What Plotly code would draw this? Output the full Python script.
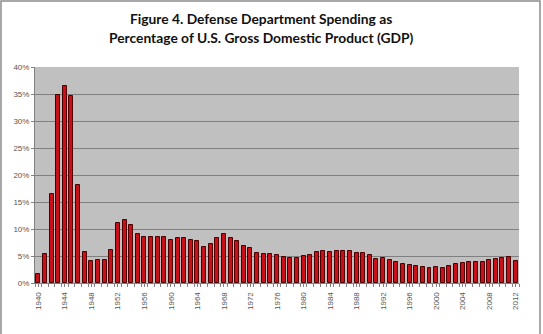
import plotly.graph_objects as go

years = list(range(1940, 2013))
pct_gdp = [1.6, 5.4, 16.4, 34.9, 36.4, 34.6, 18.2, 5.7, 4.1, 4.2, 4.3, 6.2,
           11.2, 11.7, 10.7, 9.0, 8.5, 8.5, 8.6, 8.6, 8.0, 8.3, 8.3, 8.0,
           7.8, 6.7, 7.3, 8.4, 9.0, 8.3, 7.7, 6.9, 6.4, 5.6, 5.4, 5.4,
           5.2, 4.9, 4.6, 4.7, 5.0, 5.2, 5.7, 6.0, 5.7, 6.0, 6.0, 6.0,
           5.6, 5.6, 5.2, 4.4, 4.6, 4.2, 3.9, 3.5, 3.3, 3.1, 2.9, 2.75,
           2.9, 2.75, 3.1, 3.5, 3.75, 3.8, 3.9, 3.9, 4.2, 4.5, 4.6, 4.9, 4.0]
tick_years = list(range(1940, 2013, 4))
y_ticks = [0, 5, 10, 15, 20, 25, 30, 35, 40]
title_lines = ["Figure 4. Defense Department Spending as",
               "Percentage of U.S. Gross Domestic Product (GDP)"]

W, H = 543, 334
L, R, T, B = 35, 24, 67, 51
pw, ph = W - L - R, H - T - B

fig = go.Figure(go.Bar(
    x=years, y=pct_gdp, width=0.6,
    marker=dict(color="#C8101A", line=dict(color="#4A0000", width=1)),
))

fig.update_layout(
    width=W, height=H,
    margin=dict(l=L, r=R, t=T, b=B),
    paper_bgcolor="white", plot_bgcolor="#C0C0C0",
    showlegend=False, bargap=0,
    font=dict(family="Liberation Sans, Arial", size=8, color="#555555"),
)
fig.update_xaxes(
    range=[1939.5, 2012.5], tickvals=tick_years, ticktext=[str(y) for y in tick_years],
    tickangle=-90, showgrid=False, ticks="outside", ticklen=3, tickcolor="#808080",
    showline=True, linecolor="#808080", ticklabelstandoff=2,
    linewidth=1, zeroline=False, tickfont=dict(size=8, color="#555555"),
    minor=dict(ticks="outside", tick0=1939.5, dtick=1, ticklen=3, tickcolor="#808080", showgrid=False),
)
fig.update_yaxes(
    range=[0, 40], tickvals=y_ticks, ticktext=[f"{v}%" for v in y_ticks],
    showgrid=True, gridcolor="#7F7F7F", gridwidth=1, showline=True,
    linecolor="#808080", linewidth=1, ticks="outside", ticklen=3, tickcolor="#808080",
    zeroline=False, tickfont=dict(size=8, color="#555555"),
)
# outer chart border
fig.add_shape(type="rect", xref="paper", yref="paper",
              x0=(1 - L) / pw, x1=(W - 3 - L) / pw,
              y0=(H - T - 332) / ph + 0, y1=1 + (T - 1) / ph,
              line=dict(color="#8C8C8C", width=1.5), fillcolor="rgba(0,0,0,0)", layer="below")
for i, line in enumerate(title_lines):
    fig.add_annotation(text="<b>" + line + "</b>", xref="paper", yref="paper",
                       x=(261 - L) / pw, y=1 + (T - (18 + 20 * i)) / ph,
                       showarrow=False, xanchor="center", yanchor="middle",
                       font=dict(family="Lato, Open Sans", size=13.8, color="#111111"))

fig.write_html("out.html")
